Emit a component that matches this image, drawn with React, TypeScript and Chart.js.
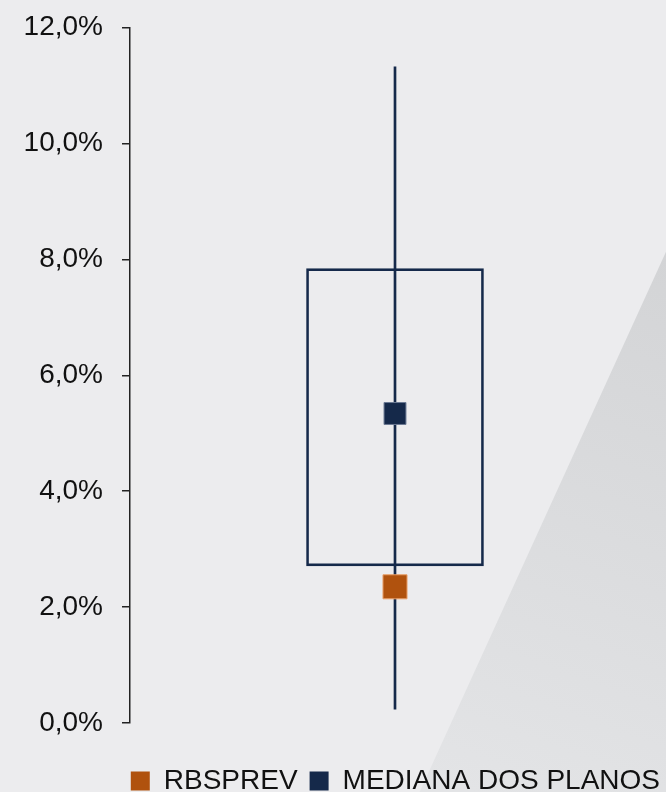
import React, { useEffect, useRef } from "react";
import { Chart, registerables } from "chart.js";

Chart.register(...registerables);

const categories = ["Rentabilidade"];
const rbsprevValues = [2.35];
const medianaValues = [5.34];
const boxLow = [2.71];
const boxHigh = [7.84];
const whiskerLow = [0.24];
const whiskerHigh = [11.32];
const yTickValues = [0, 2, 4, 6, 8, 10, 12];
const seriesLabels = ["RBSPREV", "MEDIANA DOS PLANOS"];

const NAVY = "#15294a";
const ORANGE = "#b0520e";
const FONT = "'Liberation Sans', Arial, sans-serif";

const backgroundPlugin = {
  id: "bgPlugin",
  afterLayout(chart: any) {
    if (chart.legend) {
      chart.legend.left += 12;
      chart.legend.right += 12;
    }
  },
  beforeDraw(chart: any) {
    const { ctx, width, height } = chart;
    ctx.save();
    ctx.fillStyle = "#ececee";
    ctx.fillRect(0, 0, width, height);
    const g = ctx.createLinearGradient(width, height * 0.32, width * 0.7, height);
    g.addColorStop(0, "#d3d4d6");
    g.addColorStop(1, "#e3e4e6");
    ctx.fillStyle = g;
    ctx.beginPath();
    ctx.moveTo(width, height * 0.318);
    ctx.lineTo(width, height);
    ctx.lineTo(width * 0.63, height);
    ctx.closePath();
    ctx.fill();
    ctx.restore();
  },
};

export default function App() {
  const ref = useRef<HTMLCanvasElement | null>(null);

  useEffect(() => {
    if (!ref.current) return;
    const chart = new Chart(ref.current, {
      type: "bar",
      data: {
        labels: categories,
        datasets: [
          {
            type: "line",
            label: seriesLabels[0],
            data: rbsprevValues,
            showLine: false,
            pointStyle: "rect",
            pointRadius: 17,
            pointBorderWidth: 1,
            backgroundColor: ORANGE,
            borderColor: "#e9a06a",
            borderWidth: 0,
            order: 0,
          } as any,
          {
            type: "line",
            label: seriesLabels[1],
            data: medianaValues,
            showLine: false,
            pointStyle: "rect",
            pointRadius: 15.5,
            pointBorderWidth: 1,
            backgroundColor: NAVY,
            borderColor: "#6b7a94",
            borderWidth: 0,
            order: 1,
          } as any,
          {
            type: "bar",
            label: "box",
            data: categories.map((_, i) => [boxLow[i], boxHigh[i]]),
            backgroundColor: "rgba(0,0,0,0)",
            borderColor: NAVY,
            borderWidth: 2,
            borderSkipped: false,
            barThickness: 177,
            grouped: false,
            order: 2,
          } as any,
          {
            type: "bar",
            label: "whisker",
            data: categories.map((_, i) => [whiskerLow[i], whiskerHigh[i]]),
            backgroundColor: NAVY,
            borderWidth: 0,
            barThickness: 2,
            grouped: false,
            order: 3,
          } as any,
        ],
      },
      options: {
        responsive: false,
        animation: false,
        layout: {
          autoPadding: false,
          padding: { top: 27.5, right: 6, left: 0, bottom: -13 },
        },
        plugins: {
          tooltip: { enabled: false },
          legend: {
            position: "bottom",
            align: "end",
            labels: {
              filter: (item: any) => seriesLabels.includes(item.text),
              boxWidth: 19,
              boxHeight: 19,
              color: "#111",
              padding: 12,
              font: { size: 28, family: FONT },
            },
          },
        },
        scales: {
          x: {
            display: true,
            offset: true,
            afterFit: (scale: any) => {
              scale.height = 32;
              scale.paddingLeft = 0;
              scale.paddingRight = 0;
            },
            grid: { display: false },
            border: { display: false },
            ticks: { display: false },
          },
          y: {
            min: 0,
            max: 12,
            afterFit: (scale: any) => {
              scale.width = 130;
              scale.paddingTop = 0;
              scale.paddingBottom = 0;
            },
            afterBuildTicks: (scale: any) => {
              scale.ticks = yTickValues.map((v) => ({ value: v }));
            },
            ticks: {
              stepSize: 2,
              padding: 19,
              color: "#111",
              font: { size: 28, family: FONT },
              callback: (v: any) => Number(v).toFixed(1).replace(".", ",") + "%",
            },
            grid: {
              drawOnChartArea: false,
              drawTicks: true,
              tickLength: 8,
              color: "#222",
              lineWidth: 1.5,
            },
            border: { display: true, color: "#222", width: 1.5 },
          },
        },
      },
      plugins: [backgroundPlugin],
    });
    return () => chart.destroy();
  }, []);

  return (
    <div style={{ position: "fixed", left: 0, top: 0, width: 666, height: 792 }}>
      <canvas ref={ref} width={666} height={792} />
    </div>
  );
}
